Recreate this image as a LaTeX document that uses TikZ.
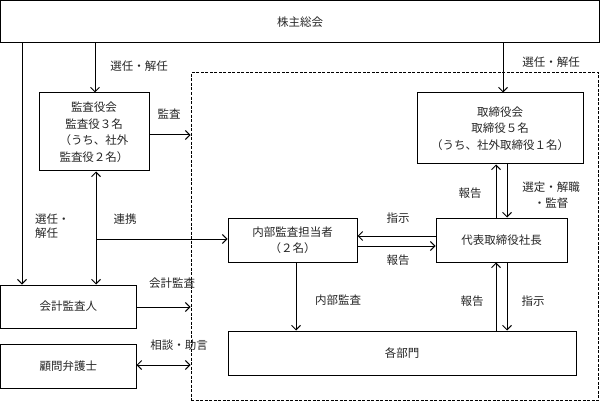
\documentclass[tikz,border=0pt]{standalone}
\usepackage{fontspec}
\setmainfont{Noto Sans CJK JP}
\usetikzlibrary{arrows.meta}
\tikzset{
  box/.style={draw=black,line width=1pt,inner sep=0pt,align=center,text=black!85},
  lbl/.style={inner sep=0pt,text=black!85,align=center},
  arr/.style={line width=1pt,-{Straight Barb[length=4.5pt,width=9pt]}},
  darr/.style={line width=1pt,{Straight Barb[length=4.5pt,width=9pt]}-{Straight Barb[length=4.5pt,width=9pt]}},
}
\begin{document}
\begin{tikzpicture}[x=1pt,y=-1pt,font=\fontsize{11.5}{16.5}\selectfont]
\useasboundingbox (0,0) rectangle (600,401);
% coordinates
\coordinate (x22) at (22,0);
\coordinate (x95) at (95,0);
\coordinate (x96) at (96,0);
\coordinate (x503) at (503,0);
\coordinate (x496) at (496,0);
\coordinate (x507) at (507,0);
\coordinate (x296) at (296,0);
\coordinate (y135) at (0,135);
\coordinate (y239) at (0,239);
\coordinate (y236) at (0,236);
\coordinate (y246) at (0,246);
\coordinate (y307) at (0,307);
\coordinate (y365) at (0,365);
% dashed group
\node[draw=black,line width=1pt,dash pattern=on 3pt off 1.5pt,inner sep=0pt,minimum width=407.5pt,minimum height=327pt] (grp) at (394.75,236.5) {};
% boxes
\node[box,minimum width=599pt,minimum height=42.5pt] (sh) at (300,21.75) {株主総会};
\node[box,minimum width=110pt,minimum height=78pt] (kan) at (94,132) {監査役会\\監査役３名\\（うち、社外\\監査役２名）};
\node[box,minimum width=166pt,minimum height=71pt] (tori) at (500,128.5) {取締役会\\取締役５名\\（うち、社外取締役１名）};
\node[box,minimum width=129pt,minimum height=44pt] (nai) at (292.5,240) {内部監査担当者\\（２名）};
\node[box,minimum width=131pt,minimum height=44pt] (dai) at (501.5,240) {代表取締役社長};
\node[box,minimum width=348pt,minimum height=44pt] (kaku) at (402,353) {各部門};
\node[box,minimum width=135.5pt,minimum height=43pt] (kai) at (68.25,306.5) {会計監査人};
\node[box,minimum width=135.5pt,minimum height=44pt] (kom) at (68.25,366) {顧問弁護士};
% connectors
\draw[arr] (sh.south -| x22) -- (kai.north -| x22);
\draw[arr] (sh.south -| x95) -- (kan.north -| x95);
\draw[arr] (sh.south -| x503) -- (tori.north -| x503);
\draw[arr] (kan.east |- y135) -- (grp.west |- y135);
\draw[darr] (kan.south -| x96) -- (kai.north -| x96);
\draw[arr] (x96 |- y239) -- (nai.west |- y239);
\draw[arr] (dai.west |- y236) -- (nai.east |- y236);
\draw[arr] (nai.east |- y246) -- (dai.west |- y246);
\draw[arr] (dai.north -| x496) -- (tori.south -| x496);
\draw[arr] (tori.south -| x507) -- (dai.north -| x507);
\draw[arr] (kaku.north -| x496) -- (dai.south -| x496);
\draw[arr] (dai.south -| x507) -- (kaku.north -| x507);
\draw[arr] (nai.south -| x296) -- (kaku.north -| x296);
\draw[arr] (kai.east |- y307) -- (grp.west |- y307);
\draw[darr] (kom.east |- y365) -- (grp.west |- y365);
% labels
\node[lbl] (l1) at (139,66) {選任・解任};
\node[lbl] (l2) at (551,62) {選任・解任};
\node[lbl] (l3) at (169,114) {監査};
\node[lbl,align=left,anchor=west,font=\fontsize{11.5}{14.5}\selectfont] (l4) at (35,226) {選任・\\解任};
\node[lbl] (l5) at (125,219) {連携};
\node[lbl] (l6) at (398,218) {指示};
\node[lbl] (l7) at (398,260) {報告};
\node[lbl] (l8) at (470,193) {報告};
\node[lbl] (l9) at (551,187) {選定・解職};
\node[lbl] (l10) at (551,203) {・監督};
\node[lbl] (l11) at (338,300) {内部監査};
\node[lbl] (l12) at (472,301) {報告};
\node[lbl] (l13) at (533,301) {指示};
\node[lbl] (l14) at (172,283) {会計監査};
\node[lbl] (l15) at (179,345) {相談・助言};
\end{tikzpicture}
\end{document}
